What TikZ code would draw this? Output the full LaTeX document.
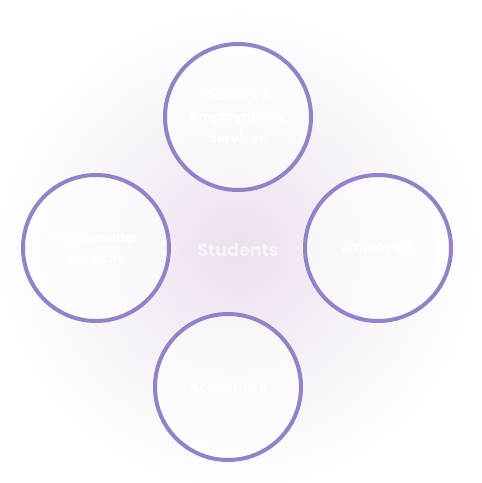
\documentclass[tikz,border=0pt]{standalone}
\usepackage{fontspec}
\setmainfont{Poppins}
\definecolor{ring}{HTML}{9383C6}
\definecolor{glow}{HTML}{ECE0EF}
\begin{document}
\begin{tikzpicture}[x=1pt,y=-1pt,
  ring/.style={circle,draw=ring,line width=4pt,minimum size=146pt,inner sep=0pt,
    fill=white,fill opacity=0.6,text opacity=1,text=white,align=center,
    font=\bfseries\fontsize{13.2}{21.5}\selectfont,text width=120pt},
  hub/.style={text=white,text opacity=0.6,font=\bfseries\fontsize{17.5}{20}\selectfont}]
\useasboundingbox (0,0) rectangle (482,483);
\fill[white] (0,0) rectangle (482,483);
\shade[inner color=glow,outer color=white] (238,250) circle (240);
\node[hub] (students) at (238,250) {Students};
\node[ring] (careers) at (238,117) {Careers \&\\employability\\services};
\node[ring] (prof) at (96,248) {Professional\\services};
\node[ring] (employers) at (378,248) {Employers};
\node[ring] (academics) at (228,387) {Academics};
\end{tikzpicture}
\end{document}
